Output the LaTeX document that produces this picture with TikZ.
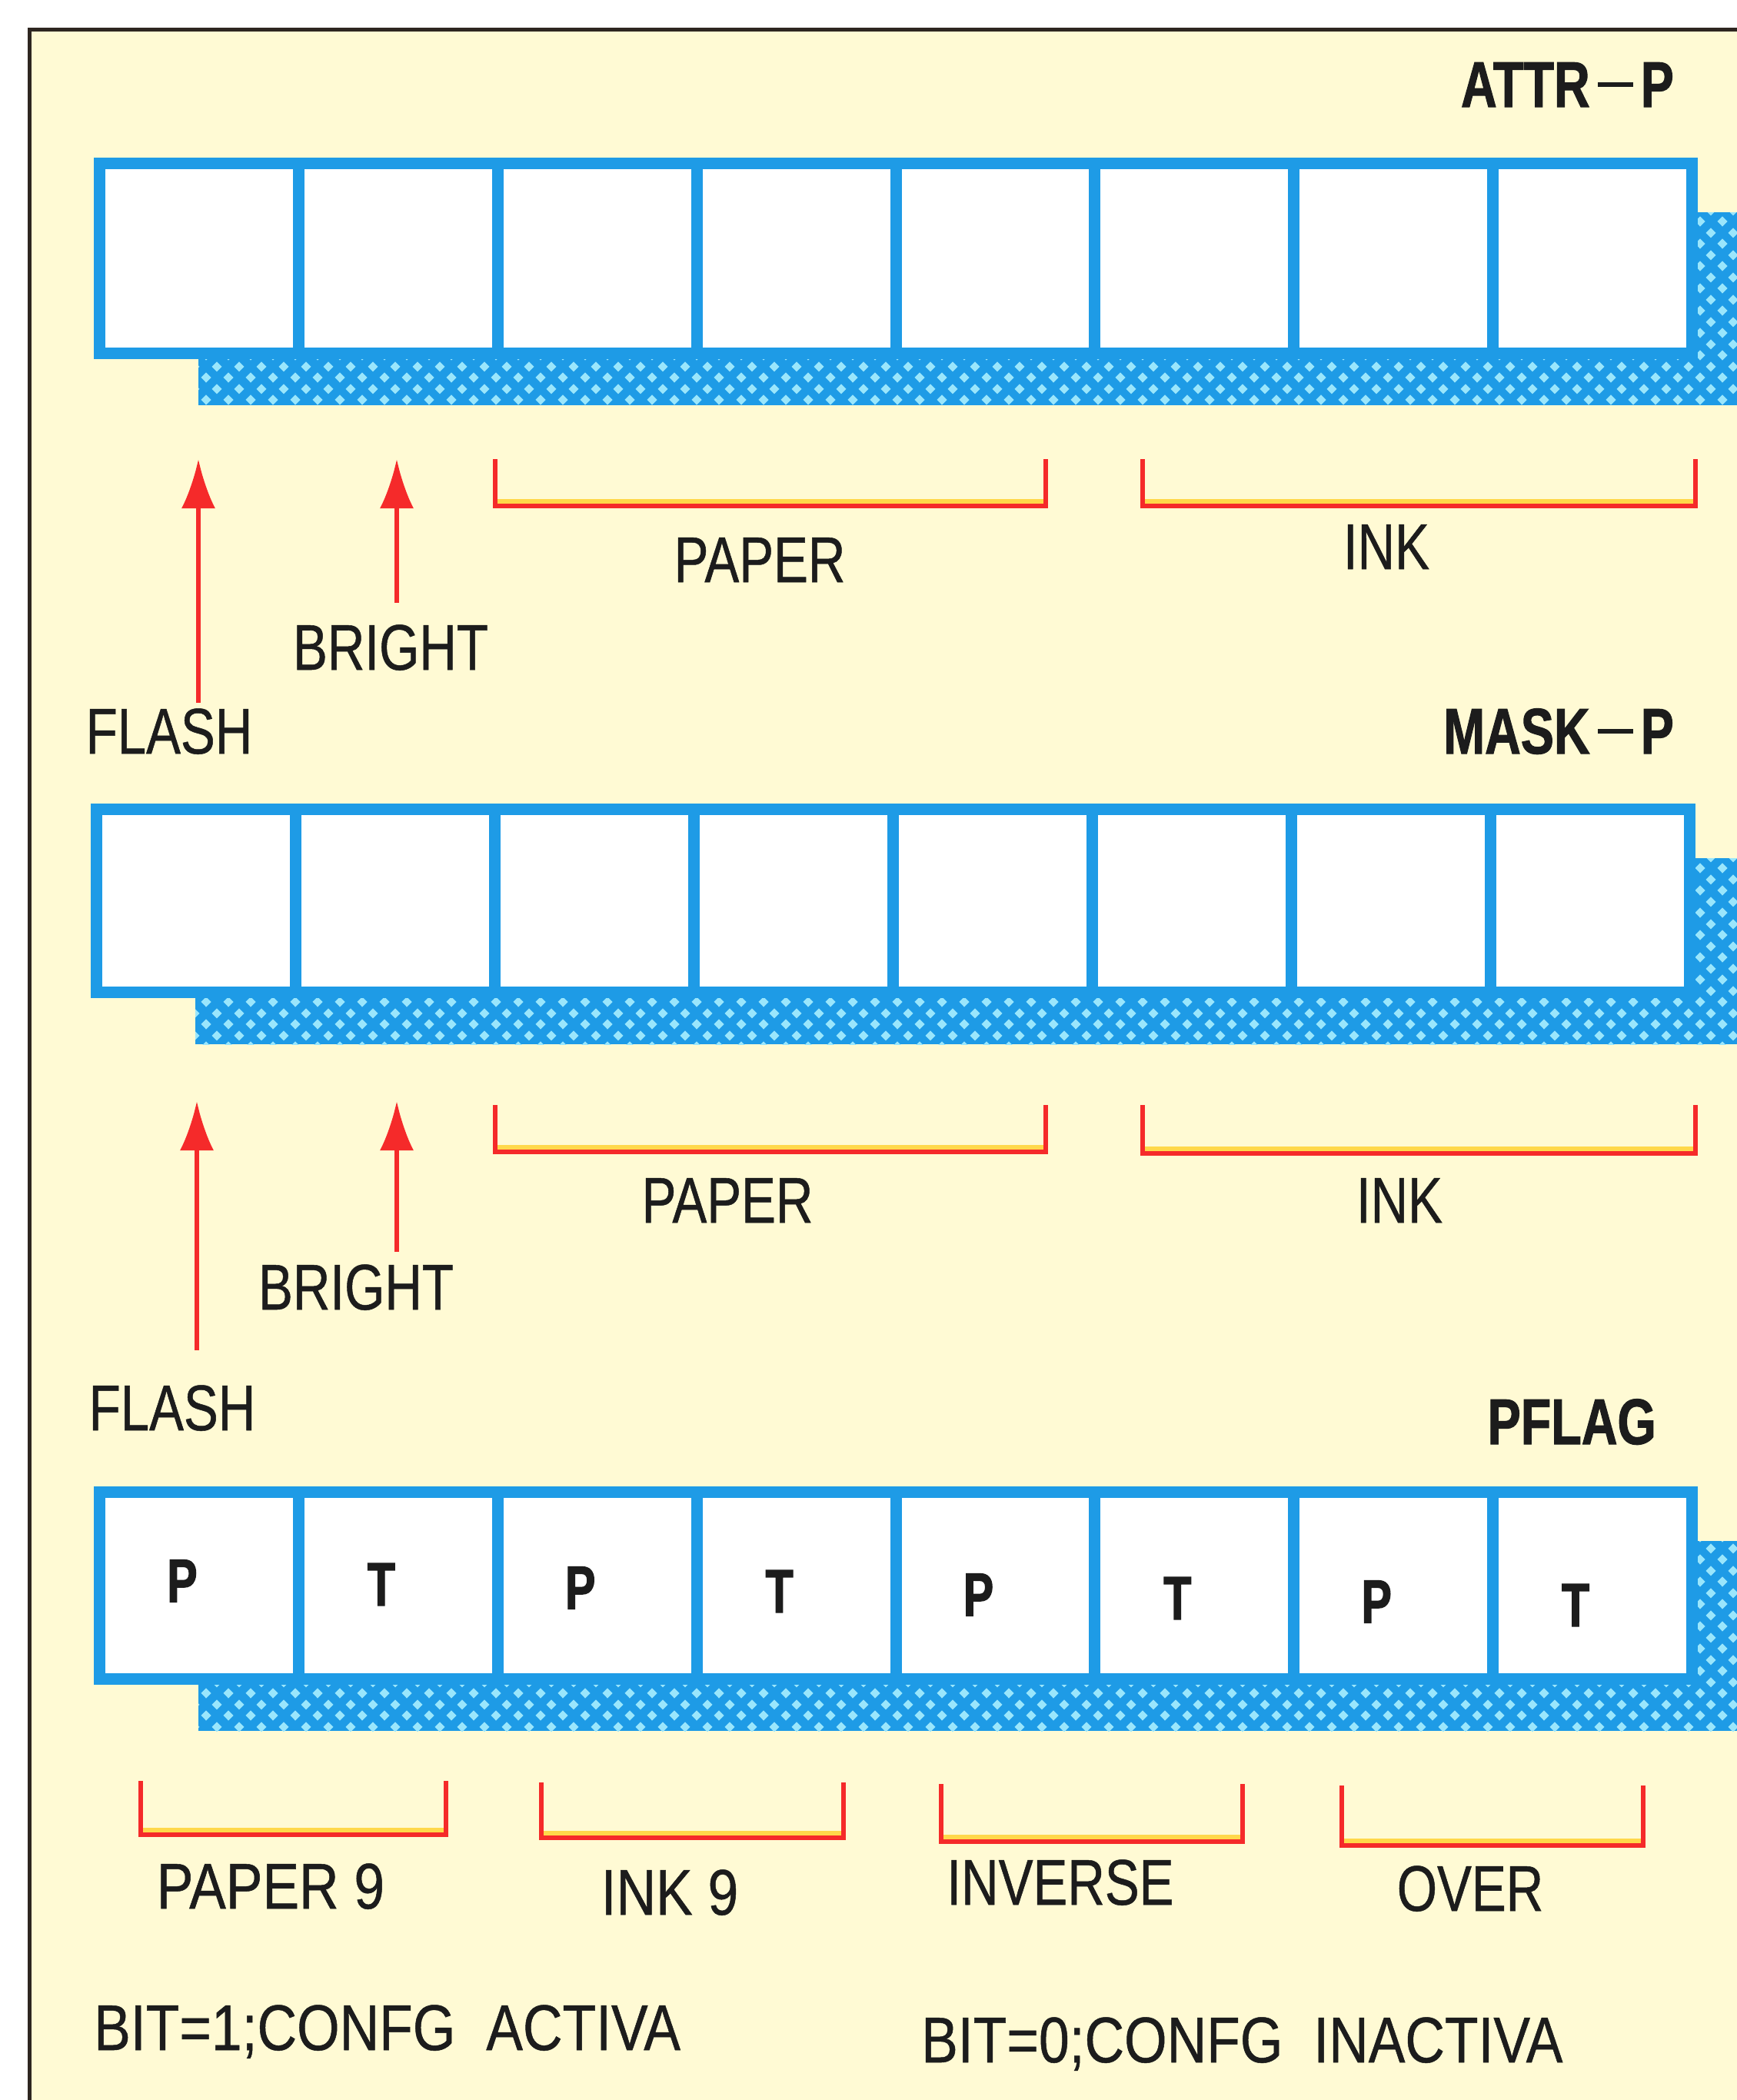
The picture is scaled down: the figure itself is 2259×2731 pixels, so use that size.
\documentclass[tikz,border=0pt]{standalone}
\usepackage{fontspec}
\newfontfamily\lab{Liberation Sans}[FakeStretch=0.8,FakeBold=0.6]
\newfontfamily\labw{Liberation Sans}[FakeStretch=0.85,FakeBold=0.6]
\newfontfamily\labb{Liberation Sans Bold}[FakeStretch=0.77,FakeBold=1.2]
\newfontfamily\labc{Liberation Sans Bold}[FakeStretch=0.74,FakeBold=1.5]
\usetikzlibrary{arrows.meta,patterns.meta}
\definecolor{bg}{HTML}{FFFAD4}
\definecolor{regblue}{HTML}{1E9BE6}
\definecolor{dotc}{HTML}{9AE6FC}
\definecolor{brred}{HTML}{F52A2A}
\definecolor{glow}{HTML}{FFD84A}
\definecolor{inkc}{HTML}{1C1C1C}
\definecolor{framec}{HTML}{2E2620}
\tikzdeclarepattern{
  name=diadots, type=uncolored,
  bottom left={(0pt,0pt)}, top right={(29pt,29pt)}, tile size={(29pt,29pt)},
  code={
    \fill (7.25pt,0.5pt) -- (14pt,7.25pt) -- (7.25pt,14pt) -- (0.5pt,7.25pt) -- cycle;
    \fill (21.75pt,15pt) -- (28.5pt,21.75pt) -- (21.75pt,28.5pt) -- (15pt,21.75pt) -- cycle;
  }
}
\tikzset{
  cell/.style={draw=regblue, fill=white, line width=15pt, inner sep=0pt},
  lbl/.style={font=\lab\fontsize{84}{84}\selectfont, text=inkc, inner sep=0pt},
  wlbl/.style={font=\labw\fontsize{84}{84}\selectfont, text=inkc, inner sep=0pt},
  blbl/.style={font=\labb\fontsize{84}{84}\selectfont, text=inkc, inner sep=0pt},
  bit/.style={font=\labc\fontsize{80}{80}\selectfont, text=inkc, inner sep=0pt},
  redarrow/.style={draw=brred, line width=6pt, -{Latex[length=64pt,width=44pt]}},
  bracket/.style={draw=brred, line width=6pt, line join=miter},
  glowline/.style={draw=glow, line width=6pt},
}
\newcommand\myreg[5]{%
  \pgfmathsetmacro\pp{(#4-#2-15)/8}%
  \pgfmathsetmacro\hh{#5-#3-15}%
  \pgfmathsetmacro\cy{(#3+#5)/2}%
  \fill[regblue] (#2+136,#3+71) rectangle (#4+136,#5+60);
  \fill[pattern=diadots,pattern color=dotc] (#2+136,#3+71) rectangle (#4+136,#5+60);
  \foreach \i in {0,...,7}{
    \pgfmathsetmacro\cx{#2+7.5+\pp*(\i+0.5)}
    \node[cell, minimum width=\pp pt, minimum height=\hh pt] (#1-\i) at (\cx,\cy) {};
  }
}
\newcommand\mybracket[4]{% x1 x2 ytop ybottom
  \draw[glowline] (#1+3,#4-6) -- (#2-3,#4-6);
  \draw[bracket] (#1,#3) -- (#1,#4) -- (#2,#4) -- (#2,#3);
}
\begin{document}
\begin{tikzpicture}[x=1pt,y=-1pt]
\useasboundingbox (0,0) rectangle (2259,2731);
\fill[white] (0,0) rectangle (2259,2731);
\fill[bg] (38,38) rectangle (2259,2731);
\draw[framec, line width=5pt] (38,2731) -- (38,38) -- (2259,38);

% ---------- ATTR-P ----------
\node[blbl, anchor=base east] (attrp) at (2177,139) {ATTR\kern10pt\rule[26pt]{46pt}{6pt}\kern10pt P};
\myreg{a}{122}{205}{2208}{467}
\coordinate (fla1) at (258,914);
\coordinate (flt1) at (258,597);
\coordinate (bra1) at (516,784);
\coordinate (brt1) at (516,597);
\draw[redarrow] (fla1) -- (flt1);
\draw[redarrow] (bra1) -- (brt1);
\mybracket{644}{1360}{597}{658}
\mybracket{1486}{2205}{597}{658}
\node[lbl, anchor=base] (paper1) at (988,757) {PAPER};
\node[lbl, anchor=base] (ink1) at (1803,740) {INK};
\node[lbl, anchor=base] (bright1) at (508,871) {BRIGHT};
\node[lbl, anchor=base] (flash1) at (220,980) {FLASH};

% ---------- MASK-P ----------
\node[blbl, anchor=base east] (maskp) at (2177,980) {MASK\kern10pt\rule[26pt]{46pt}{6pt}\kern10pt P};
\myreg{m}{118}{1045}{2205}{1298}
\coordinate (fla2) at (256,1756);
\coordinate (flt2) at (256,1432);
\coordinate (bra2) at (516,1628);
\coordinate (brt2) at (516,1432);
\draw[redarrow] (fla2) -- (flt2);
\draw[redarrow] (bra2) -- (brt2);
\mybracket{644}{1360}{1437}{1498}
\mybracket{1486}{2205}{1437}{1500}
\node[lbl, anchor=base] (paper2) at (946,1590) {PAPER};
\node[lbl, anchor=base] (ink2) at (1820,1590) {INK};
\node[lbl, anchor=base] (bright2) at (463,1703) {BRIGHT};
\node[lbl, anchor=base] (flash2) at (224,1860) {FLASH};

% ---------- PFLAG ----------
\node[blbl, anchor=base east] (pflag) at (2154,1878) {PFLAG};
\myreg{p}{122}{1933}{2208}{2191}
\foreach \i/\t in {0/P,1/T,2/P,3/T,4/P,5/T,6/P,7/T}{
  \pgfmathsetmacro\ly{2056+\i*4.5}
  \node[bit] (pt-\i) at ([xshift=-22pt]p-\i.center |- 0,\ly) {\t};
}
\mybracket{183}{580}{2316}{2386}
\mybracket{704}{1097}{2318}{2390}
\mybracket{1224}{1616}{2320}{2395}
\mybracket{1745}{2137}{2322}{2400}
\node[wlbl, anchor=base] (paper9) at (352,2482) {PAPER 9};
\node[wlbl, anchor=base] (ink9) at (871,2490) {INK 9};
\node[lbl, anchor=base] (inverse) at (1379,2477) {INVERSE};
\node[lbl, anchor=base] (over) at (1912,2485) {OVER};

\node[wlbl, anchor=base west] (bit1) at (122,2666) {BIT=1;CONFG\hspace{40pt}ACTIVA};
\node[wlbl, anchor=base west] (bit0) at (1198,2682) {BIT=0;CONFG\hspace{40pt}INACTIVA};
\end{tikzpicture}
\end{document}
